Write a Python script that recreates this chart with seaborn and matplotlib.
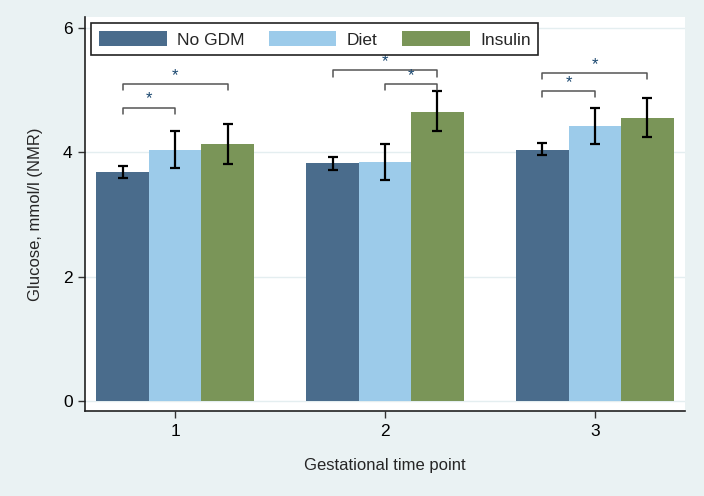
import matplotlib
matplotlib.use("Agg")
import matplotlib.pyplot as plt
import numpy as np
import pandas as pd
import seaborn as sns

# Values
time_points = ["1", "2", "3"]
groups = ["No GDM", "Diet", "Insulin"]
no_gdm = [3.68, 3.83, 4.04]
diet = [4.04, 3.85, 4.43]
insulin = [4.13, 4.65, 4.55]
no_gdm_lo = [3.58, 3.72, 3.95]
no_gdm_hi = [3.78, 3.92, 4.15]
diet_lo = [3.75, 3.55, 4.13]
diet_hi = [4.34, 4.14, 4.72]
insulin_lo = [3.81, 4.34, 4.24]
insulin_hi = [4.45, 4.99, 4.88]

# significance brackets: (time point index, group a, group b, bracket height)
brackets = [
    (0, 0, 1, 4.72),
    (0, 0, 2, 5.10),
    (1, 1, 2, 5.10),
    (1, 0, 2, 5.32),
    (2, 0, 1, 4.99),
    (2, 0, 2, 5.28),
]

colors = ["#4a6c8c", "#9ccbea", "#7a9558"]
bg = "#eaf2f3"

df = pd.DataFrame({
    "time": np.repeat(time_points, 3),
    "group": groups * 3,
    "glucose": [v for t in zip(no_gdm, diet, insulin) for v in t],
    "lo": [v for t in zip(no_gdm_lo, diet_lo, insulin_lo) for v in t],
    "hi": [v for t in zip(no_gdm_hi, diet_hi, insulin_hi) for v in t],
})

sns.set_style("white")
plt.rcParams["font.family"] = ["Liberation Sans", "DejaVu Sans"]

fig = plt.figure(figsize=(7.04, 4.96), dpi=100, facecolor=bg)
ax = fig.add_axes([85 / 704, 1 - 411 / 496, 600 / 704, 394 / 496])

sns.barplot(data=df, x="time", y="glucose", hue="group", order=time_points,
            hue_order=groups, palette=colors, width=0.75, errorbar=None,
            linewidth=0, saturation=1, ax=ax)

# bar centres: patches come in hue order, one per time point
centers = {}
bars = [p for p in ax.patches if p.get_height() > 0]
for gi, g in enumerate(groups):
    for ti, t in enumerate(time_points):
        p = bars[gi * len(time_points) + ti]
        centers[(ti, gi)] = p.get_x() + p.get_width() / 2

for gi, g in enumerate(groups):
    sub = df[df["group"] == g].set_index("time").loc[time_points]
    xs = [centers[(ti, gi)] for ti in range(len(time_points))]
    ax.errorbar(xs, sub["glucose"], yerr=[sub["glucose"] - sub["lo"], sub["hi"] - sub["glucose"]],
                fmt="none", ecolor="black", elinewidth=1.6, capsize=3.5, capthick=1.6, zorder=4)

for ti, a, b, yb in brackets:
    x1, x2 = centers[(ti, a)], centers[(ti, b)]
    ax.plot([x1, x1, x2, x2], [yb - 0.1, yb, yb, yb - 0.1], color="#555555", lw=1.1, zorder=4)
    ax.text((x1 + x2) / 2, yb + 0.02, "*", ha="center", va="bottom", fontsize=12,
            color="#1a476f", zorder=5)

ax.set_xlim(-0.429, 2.429)
ax.set_ylim(-0.166, 6.18)
ax.set_yticks([0, 2, 4, 6])
ax.set_yticklabels(["0", "2", "4", "6"])
ax.yaxis.grid(True, color="#e4eef0", lw=1)
ax.set_axisbelow(True)

for s in ["top", "right"]:
    ax.spines[s].set_visible(False)
for s in ["left", "bottom"]:
    ax.spines[s].set_color("#222222")
    ax.spines[s].set_linewidth(1.2)
ax.tick_params(axis="both", direction="out", length=5, width=1, color="#333333",
               labelsize=12.5, labelcolor="black", left=True, bottom=True, pad=4)

ax.set_xlabel("Gestational time point", fontsize=12, labelpad=14)
ax.set_ylabel("Glucose, mmol/l (NMR)", fontsize=12, labelpad=14)

handles, labels = ax.get_legend_handles_labels()
leg = ax.legend(handles, labels, ncol=3, loc="upper left", bbox_to_anchor=(6 / 600, 1 - 6 / 394),
                fontsize=12.5, frameon=True, fancybox=False, framealpha=1,
                handlelength=3.9, handleheight=1.0, handletextpad=0.6, columnspacing=1.4,
                borderpad=0.45, borderaxespad=0)
leg.get_frame().set_edgecolor("#222222")
leg.get_frame().set_linewidth(1.2)

fig.savefig("out.png", dpi=100, facecolor=bg)
